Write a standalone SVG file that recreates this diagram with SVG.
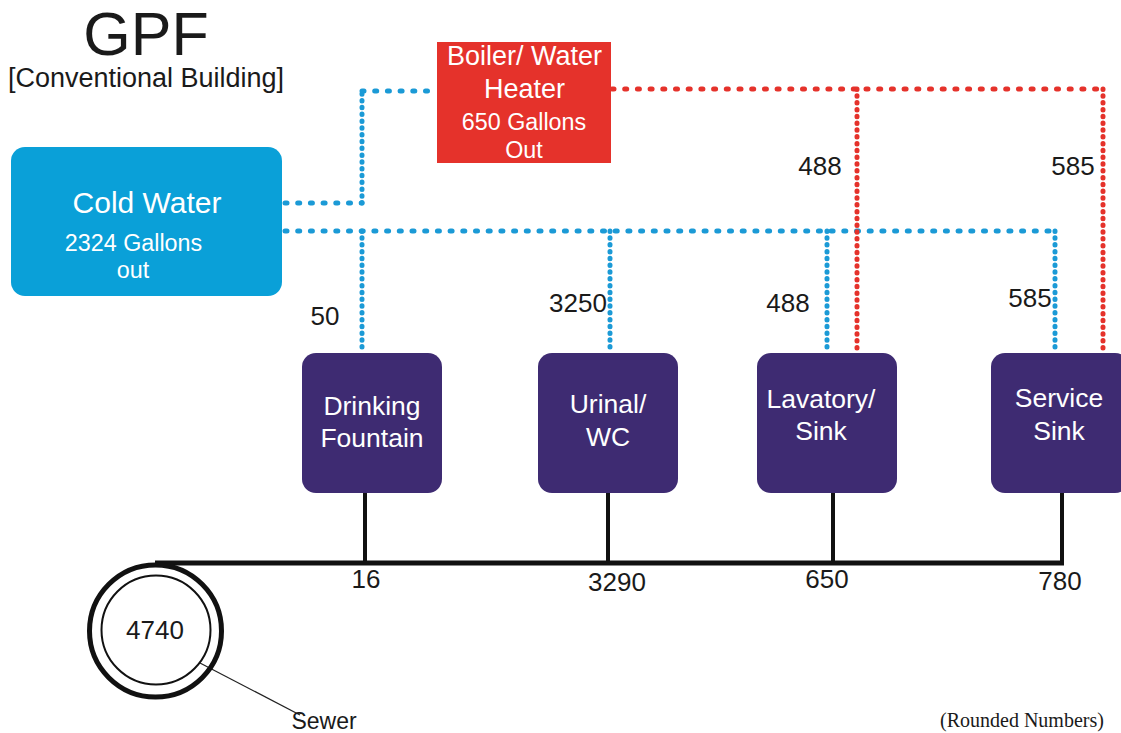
<svg xmlns="http://www.w3.org/2000/svg" width="1121" height="733" viewBox="0 0 1121 733">
<style>
text{font-family:"Liberation Sans",Arial,Helvetica,sans-serif;}
text.serif{font-family:"Liberation Serif","Times New Roman",serif;}
.w{fill:#ffffff;text-anchor:middle;}
.k{fill:#1a1a1a;}
.c{text-anchor:middle;}
.fix{fill:#3e2b72;}
.bh{stroke:#1b9ad6;stroke-width:5;fill:none;stroke-linecap:round;stroke-dasharray:2 10.7;}
.bv{stroke:#1b9ad6;stroke-width:5;fill:none;stroke-linecap:round;stroke-dasharray:0.5 6.3;}
.rh{stroke:#e5322b;stroke-width:5;fill:none;stroke-linecap:round;stroke-dasharray:2 10.7;}
.rv{stroke:#e5322b;stroke-width:5;fill:none;stroke-linecap:round;stroke-dasharray:0.5 6.3;}
.drain{stroke:#111;stroke-width:4;fill:none;}
.num{font-size:26px;fill:#1a1a1a;}
</style>
<rect width="1121" height="733" fill="#ffffff"/>

<g id="title">
<text x="146" y="55" class="k c" font-size="61">GPF</text>
<text x="146" y="87" class="k c" font-size="27">[Conventional Building]</text>
</g>

<g id="connectors">
<!-- cold water to boiler -->
<path class="bh" d="M285 203 H362"/>
<path class="bv" d="M362 203 V91"/>
<path class="bh" d="M362 91 H436"/>
<!-- cold water main -->
<path class="bh" d="M285 231 H1055"/>
<path class="bv" d="M362 231 V352"/>
<path class="bv" d="M610 231 V352"/>
<path class="bv" d="M827 231 V352"/>
<path class="bv" d="M1055 231 V352"/>
<!-- hot water -->
<path class="rh" d="M612 89 H1103"/>
<path class="rv" d="M857 89 V352"/>
<path class="rv" d="M1103 89 V352"/>
<!-- drains -->
<path class="drain" d="M365 493 V563 M608 493 V563 M833 493 V563 M1062 493 V563"/>
<path d="M155 563 H1064" stroke="#111" stroke-width="5" fill="none"/>
<path d="M200 663 L300 715" stroke="#222" stroke-width="1.3" fill="none"/>
</g>

<g id="labels">
<text x="325" y="325" class="num c">50</text>
<text x="578" y="312" class="num c">3250</text>
<text x="820" y="175" class="num c">488</text>
<text x="1073" y="175" class="num c">585</text>
<text x="788" y="312" class="num c">488</text>
<text x="1030" y="307" class="num c">585</text>
<text x="366" y="588" class="num c">16</text>
<text x="617" y="591" class="num c">3290</text>
<text x="827" y="588" class="num c">650</text>
<text x="1060" y="590" class="num c">780</text>
</g>

<g id="cold-water">
<rect x="11" y="147" width="271" height="149" rx="14" fill="#0aa0d8"/>
<text x="147" y="213" class="w" font-size="30">Cold Water</text>
<text x="133.5" y="251" class="w" font-size="23.3">2324 Gallons</text>
<text x="133" y="278" class="w" font-size="23.3">out</text>
</g>

<g id="boiler">
<rect x="437" y="42" width="174" height="121" fill="#e5322b"/>
<text x="524.5" y="65" class="w" font-size="27">Boiler/ Water</text>
<text x="524.5" y="98" class="w" font-size="27">Heater</text>
<text x="524" y="130" class="w" font-size="23.3">650 Gallons</text>
<text x="524" y="158" class="w" font-size="23.3">Out</text>
</g>

<g id="drinking-fountain">
<rect x="302" y="353" width="140" height="140" rx="14" class="fix"/>
<text x="372" y="415" class="w" font-size="26.5">Drinking</text>
<text x="372" y="447" class="w" font-size="26.5">Fountain</text>
</g>

<g id="urinal-wc">
<rect x="538" y="353" width="140" height="140" rx="14" class="fix"/>
<text x="608" y="413" class="w" font-size="26.5">Urinal/</text>
<text x="608" y="446" class="w" font-size="26.5">WC</text>
</g>

<g id="lavatory-sink">
<rect x="757" y="353" width="140" height="140" rx="14" class="fix"/>
<text x="821" y="408" class="w" font-size="26.5">Lavatory/</text>
<text x="821" y="440" class="w" font-size="26.5">Sink</text>
</g>

<g id="service-sink">
<rect x="991" y="353" width="138" height="140" rx="14" class="fix"/>
<text x="1059" y="407" class="w" font-size="26.5">Service</text>
<text x="1059" y="440" class="w" font-size="26.5">Sink</text>
</g>

<g id="sewer">
<circle cx="155.5" cy="631" r="66" fill="none" stroke="#111" stroke-width="5"/>
<circle cx="156" cy="630" r="54.5" fill="none" stroke="#111" stroke-width="2"/>
<text x="155" y="639" class="num c">4740</text>
<text x="324" y="729" class="k c" font-size="23">Sewer</text>
</g>

<g id="note">
<text x="940" y="727" class="serif k" font-size="20">(Rounded Numbers)</text>
</g>
</svg>
